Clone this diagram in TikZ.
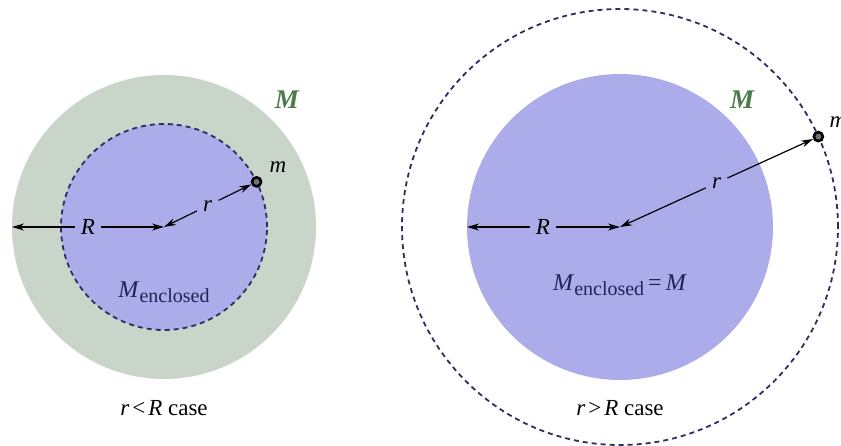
\documentclass[tikz,border=0pt]{standalone}
\usepackage{fontspec}
\setmainfont{Liberation Serif}
\usetikzlibrary{arrows.meta,positioning}
\definecolor{shellgreen}{HTML}{C9D5C8}
\definecolor{coreblue}{HTML}{ACACEA}
\definecolor{dashnavy}{HTML}{2E2E60}
\definecolor{massgreen}{HTML}{4B7B4B}
\definecolor{labelnavy}{HTML}{222255}
\newcommand{\menc}{\textit{M}\raisebox{-0.45ex}{\fontsize{10}{10}\selectfont enclosed}}

\begin{document}
\begin{tikzpicture}[x=0.5pt,y=0.5pt,
  every node/.style={font=\rmfamily\fontsize{11.5}{13}\selectfont},
  gauss/.style={draw=dashnavy,line width=0.9pt,dash pattern=on 2.5pt off 2pt},
  dim/.style={-{Stealth[length=6pt,width=3.5pt]},semithick},
  lbl/.style={inner sep=3pt},
  pointmass/.style={circle,draw=black,fill=black!55,line width=1.3pt,inner sep=0pt,minimum size=4.5pt},
  masslbl/.style={font=\rmfamily\fontsize{13.5}{15}\selectfont\bfseries\itshape,text=massgreen},
  enclbl/.style={text=labelnavy,font=\rmfamily\fontsize{12}{14}\selectfont},
  caption/.style={font=\rmfamily\fontsize{11.5}{13}\selectfont}]
\useasboundingbox (0,0) rectangle (841,445);
% r < R : point inside the sphere
\coordinate (lc) at (164,218);
\coordinate (lo) at (12,218);
\fill[shellgreen] (lc) circle[radius=152];
\fill[coreblue] (lc) circle[radius=103];
\draw[gauss] (lc) circle[radius=103];
\node[pointmass] (lmass) at ([shift={(26:103)}]lc) {};
\node[above right=-1pt and 1pt of lmass] (lmlbl) {\textit{m}};
\node[lbl] (lR) at (88,218) {\textit{R}};
\draw[dim] (lR) -- (lo);
\draw[dim] (lR) -- (lc);
\path (lc) -- (lmass) node[midway,lbl] (lr) {\textit{r}};
\draw[dim] (lr) -- (lc);
\draw[dim] (lr) -- (lmass);
\node[masslbl] (lM) at (287,345) {M};
\node[enclbl] (lenc) at (164,153) {\menc};
\node[caption] (lcap) at (164,37) {\textit{r}\kern1.5pt<\kern1.5pt\textit{R} case};
% r > R : point outside the sphere
\coordinate (rc) at (620,218);
\coordinate (ro) at (467,218);
\fill[coreblue] (rc) circle[radius=153];
\draw[gauss] (rc) circle[radius=218];
\node[pointmass] (rmass) at ([shift={(24.5:218)}]rc) {};
\node[above right=-1pt and 0pt of rmass] (rmlbl) {\textit{m}};
\node[lbl] (rR) at (543,218) {\textit{R}};
\draw[dim] (rR) -- (ro);
\draw[dim] (rR) -- (rc);
\path (rc) -- (rmass) node[midway,lbl] (rr) {\textit{r}};
\draw[dim] (rr) -- (rc);
\draw[dim] (rr) -- (rmass);
\node[masslbl] (rM) at (742,345) {M};
\node[enclbl] (renc) at (620,160) {\menc\kern2pt=\kern2pt\textit{M}};
\node[caption] (rcap) at (620,37) {\textit{r}\kern1.5pt>\kern1.5pt\textit{R} case};
\end{tikzpicture}
\end{document}
